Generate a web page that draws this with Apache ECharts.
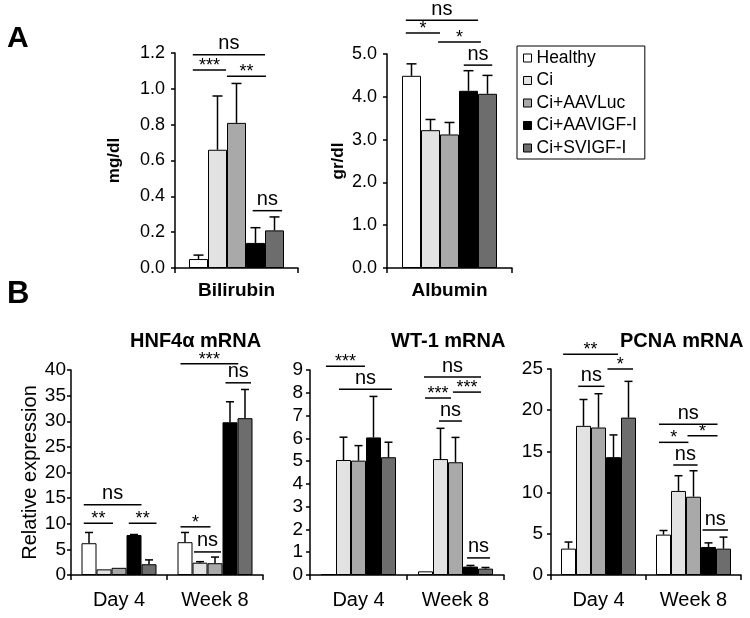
<!DOCTYPE html>
<html>
<head>
<meta charset="utf-8">
<script src="https://cdn.jsdelivr.net/npm/echarts@6/dist/echarts.min.js"></script>
<style>html,body{margin:0;padding:0;background:#fff}#c{width:750px;height:618px}</style>
</head>
<body>
<div id="c"></div>
<script>
// ---------- data ----------
const groupNames = ['Healthy', 'Ci', 'Ci+AAVLuc', 'Ci+AAVIGF-I', 'Ci+SVIGF-I'];

const bilirubinCats = ['Bilirubin'];
const bilirubinMean = [[0.05, 0.66, 0.81, 0.14, 0.21]];
const bilirubinSD   = [[0.022, 0.30, 0.22, 0.085, 0.075]];
const bilirubinSig  = [[0, 0.2, 4.0, 1.19, 'ns'], [0, 0.2, 1.95, 1.105, '***'], [0, 2.0, 4.05, 1.07, '**'], [0, 3.35, 4.9, 0.32, 'ns']];

const albuminCats = ['Albumin'];
const albuminMean = [[4.49, 3.22, 3.12, 4.14, 4.07]];
const albuminSD   = [[0.28, 0.25, 0.28, 0.47, 0.43]];
const albuminSig  = [[0, 0.2, 4.0, 5.79, 'ns'], [0, 0.2, 2.0, 5.49, '*'], [0, 1.9, 4.15, 5.28, '*'], [0, 3.25, 4.75, 4.74, 'ns']];

const timeCats = ['Day 4', 'Week 8'];

const hnfMean = [[6.2, 1.1, 1.4, 7.8, 2.1], [6.4, 2.4, 2.3, 29.8, 30.6]];
const hnfSD   = [[2.1, 0, 0, 0.1, 0.85], [1.9, 0.2, 1.2, 4.0, 5.6]];
const hnfSig  = [[0, 0.15, 4.0, 13.7, 'ns'], [0, 0.15, 2.1, 10.1, '**'], [0, 3.15, 5.0, 10.1, '**'],
                 [1, 0.2, 2.2, 9.4, '*'], [1, 1.1, 2.9, 4.5, 'ns'], [1, 0.2, 4.05, 41.2, '***'], [1, 3.2, 4.9, 37.5, 'ns']];

const wtMean = [[0.04, 5.05, 5.02, 6.04, 5.17], [0.16, 5.09, 4.95, 0.37, 0.28]];
const wtSD   = [[0, 1.0, 0.66, 1.8, 0.66], [0, 1.35, 1.09, 0.05, 0.05]];
const wtSig  = [[0, 0.33, 2.93, 9.17, '***'], [0, 1.2, 4.73, 8.16, 'ns'], [1, 0.4, 4.2, 8.69, 'ns'],
                [1, 0.47, 2.2, 7.77, '***'], [1, 2.33, 4.2, 8.03, '***'], [1, 1.4, 2.93, 6.76, 'ns'], [1, 3.27, 4.8, 0.75, 'ns']];

const pcnaMean = [[3.2, 18.1, 17.9, 14.3, 19.1], [4.9, 10.2, 9.5, 3.4, 3.2]];
const pcnaSD   = [[0.8, 3.2, 4.1, 2.7, 4.4], [0.5, 1.85, 3.15, 0.5, 1.4]];
const pcnaSig  = [[0, 0.14, 3.8, 26.8, '**'], [0, 3.1, 4.8, 25.0, '*'], [0, 1.15, 2.9, 22.9, 'ns'],
                  [1, 0.2, 4.1, 18.3, 'ns'], [1, 0.2, 2.16, 16.1, '*'], [1, 2.1, 4.1, 16.9, '*'],
                  [1, 1.15, 2.77, 13.35, 'ns'], [1, 3.1, 4.8, 5.46, 'ns']];

// ---------- styles / layout ----------
const groupColors = ['#ffffff', '#e2e2e2', '#a9a9a9', '#000000', '#6d6d6d'];
const FONT = 'Liberation Sans, Arial, sans-serif';

const panels = [
  { cats: bilirubinCats, mean: bilirubinMean, sd: bilirubinSD, sig: bilirubinSig,
    grid: { left: 175, top: 53, width: 123, height: 215 }, barW: 19, cap: 10,
    y: { min: 0, max: 1.2, interval: 0.2, dec: 1, name: 'mg/dl', nameGap: 52, nameSize: 17, nameBold: true, labelSize: 18, margin: 10 },
    xLabel: { size: 19, bold: true, margin: 13 } },
  { cats: albuminCats, mean: albuminMean, sd: albuminSD, sig: albuminSig,
    grid: { left: 387, top: 54, width: 125, height: 214 }, barW: 19, cap: 10,
    y: { min: 0, max: 5, interval: 1, dec: 1, name: 'gr/dl', nameGap: 40, nameSize: 17, nameBold: true, labelSize: 18, margin: 10 },
    xLabel: { size: 19, bold: true, margin: 13 } },
  { cats: timeCats, mean: hnfMean, sd: hnfSD, sig: hnfSig,
    grid: { left: 71, top: 370, width: 192, height: 205 }, barW: 15, cap: 8,
    y: { min: 0, max: 40, interval: 5, dec: 0, name: 'Relative expression', nameGap: 30, nameSize: 20, nameBold: false, labelSize: 19, margin: 5 },
    xLabel: { size: 20, bold: false, margin: 15 } },
  { cats: timeCats, mean: wtMean, sd: wtSD, sig: wtSig,
    grid: { left: 310, top: 370, width: 194, height: 205 }, barW: 15, cap: 8,
    y: { min: 0, max: 9, interval: 1, dec: 0, name: '', nameGap: 30, nameSize: 20, nameBold: false, labelSize: 19, margin: 7 },
    xLabel: { size: 20, bold: false, margin: 15 } },
  { cats: timeCats, mean: pcnaMean, sd: pcnaSD, sig: pcnaSig,
    grid: { left: 551, top: 369, width: 190, height: 206 }, barW: 15, cap: 8,
    y: { min: 0, max: 25, interval: 5, dec: 0, name: '', nameGap: 30, nameSize: 20, nameBold: false, labelSize: 19, margin: 8 },
    xLabel: { size: 20, bold: false, margin: 15 } }
];

const axisLineStyle = { color: '#000', width: 1.5 };

const grids = [], xAxes = [], yAxes = [], series = [];

panels.forEach((p, pi) => {
  grids.push(Object.assign({}, p.grid));
  xAxes.push({
    type: 'category', gridIndex: pi, data: p.cats, boundaryGap: true,
    axisLine: { show: true, lineStyle: axisLineStyle },
    axisTick: { show: true, length: 5, interval: 0, lineStyle: axisLineStyle },
    axisLabel: { interval: 0, color: '#000', fontFamily: FONT, fontSize: p.xLabel.size,
                 fontWeight: p.xLabel.bold ? 'bold' : 'normal', margin: p.xLabel.margin },
    splitLine: { show: false }
  });
  yAxes.push({
    type: 'value', gridIndex: pi, min: p.y.min, max: p.y.max, interval: p.y.interval,
    axisLine: { show: true, lineStyle: axisLineStyle },
    axisTick: { show: true, length: 4, lineStyle: axisLineStyle },
    splitLine: { show: false },
    axisLabel: { color: '#000', fontFamily: FONT, fontSize: p.y.labelSize, margin: p.y.margin,
                 formatter: v => v.toFixed(p.y.dec) },
    name: p.y.name, nameLocation: 'middle', nameRotate: 90, nameGap: p.y.nameGap,
    nameTextStyle: { color: '#000', fontFamily: FONT, fontSize: p.y.nameSize, fontWeight: p.y.nameBold ? 'bold' : 'normal' }
  });
  // bars
  groupNames.forEach((g, gi) => {
    series.push({
      type: 'bar', name: g, xAxisIndex: pi, yAxisIndex: pi,
      barWidth: p.barW, barGap: '0%',
      itemStyle: { color: groupColors[gi], borderColor: '#000', borderWidth: 1 },
      data: p.mean.map(row => row[gi]),
      z: 2
    });
  });
  // error bars
  const errData = [];
  p.mean.forEach((row, ci) => row.forEach((m, gi) => errData.push([ci, gi, m, p.sd[ci][gi]])));
  series.push({
    type: 'custom', xAxisIndex: pi, yAxisIndex: pi, z: 5, silent: true,
    encode: { x: 0, y: 2 },
    data: errData,
    renderItem: (params, api) => {
      const c = api.value(0), gi = api.value(1), m = api.value(2), s = api.value(3);
      if (!s) return null;
      const a = api.coord([c, m]), b = api.coord([c, m + s]);
      const x = a[0] + (gi - 2) * p.barW;
      const st = { stroke: '#000', lineWidth: 1.5 };
      return { type: 'group', children: [
        { type: 'line', shape: { x1: x, y1: a[1], x2: x, y2: b[1] }, style: st },
        { type: 'line', shape: { x1: x - p.cap / 2, y1: b[1], x2: x + p.cap / 2, y2: b[1] }, style: st }
      ] };
    }
  });
  // significance brackets
  series.push({
    type: 'custom', xAxisIndex: pi, yAxisIndex: pi, z: 6, silent: true, clip: false,
    encode: { x: 0, y: 1 },
    data: p.sig.map(d => [d[0], d[3]]),
    renderItem: (params, api) => {
      const d = p.sig[params.dataIndex];
      const pt = api.coord([d[0], d[3]]);
      const x0 = pt[0] - 2.5 * p.barW;
      const x1 = x0 + d[1] * p.barW, x2 = x0 + d[2] * p.barW;
      const isNs = d[4] === 'ns';
      return { type: 'group', children: [
        { type: 'line', shape: { x1: x1, y1: pt[1], x2: x2, y2: pt[1] }, style: { stroke: '#000', lineWidth: 1.5 } },
        { type: 'text', style: { text: d[4], x: (x1 + x2) / 2, y: pt[1] - (isNs ? 11 : 4),
          align: 'center', verticalAlign: 'middle', fill: '#000', fontFamily: FONT, fontSize: isNs ? 20 : 18 } }
      ] };
    }
  });
});

const titleStyle = (size) => ({ color: '#000', fontFamily: FONT, fontSize: size, fontWeight: 'bold' });

const option = {
  animation: false,
  backgroundColor: '#fff',
  textStyle: { fontFamily: FONT },
  title: [
    { text: 'A', left: 7, top: 24, padding: 0, textStyle: titleStyle(30) },
    { text: 'B', left: 7, top: 279, padding: 0, textStyle: titleStyle(31) },
    { text: 'HNF4α mRNA', left: 130, top: 331, padding: 0, textStyle: titleStyle(20) },
    { text: 'WT-1 mRNA', left: 391, top: 331, padding: 0, textStyle: titleStyle(20) },
    { text: 'PCNA mRNA', left: 620, top: 331, padding: 0, textStyle: titleStyle(20) }
  ],
  legend: {
    data: groupNames, orient: 'vertical', left: 517, top: 46,
    borderColor: '#000', borderWidth: 1, padding: [3, 8, 2, 6],
    itemWidth: 8, itemHeight: 8, itemGap: 4.5, icon: 'rect',
    itemStyle: { borderColor: '#000', borderWidth: 1 },
    textStyle: { color: '#000', fontFamily: FONT, fontSize: 17.5, lineHeight: 17 }
  },
  grid: grids,
  xAxis: xAxes,
  yAxis: yAxes,
  series: series
};

const chart = echarts.init(document.getElementById('c'), null, { renderer: 'canvas' });
chart.setOption(option);
</script>
</body>
</html>
